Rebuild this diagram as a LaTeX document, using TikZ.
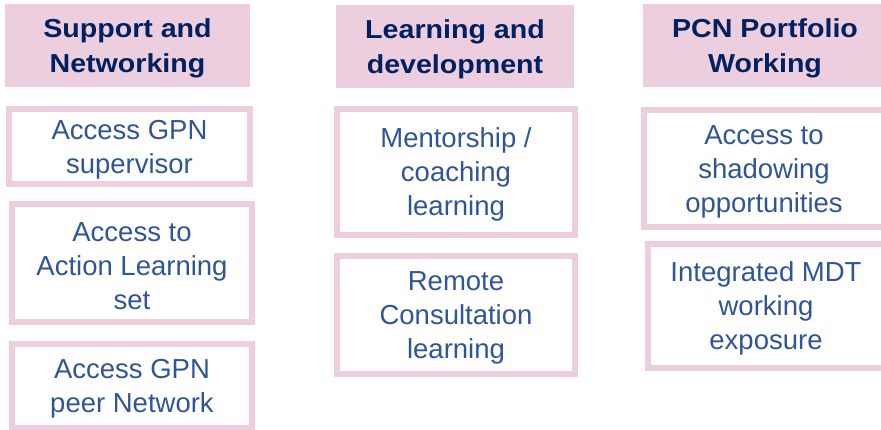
\documentclass[tikz,border=0pt]{standalone}
\usepackage{fontspec}
\setmainfont{Liberation Sans}
\newfontfamily\headfont[FakeStretch=1.1]{Liberation Sans}
\usepackage{tikz}
\usetikzlibrary{positioning}

\definecolor{pcnpink}{RGB}{237,206,222}
\definecolor{pcnnavy}{RGB}{0,32,96}
\definecolor{pcnblue}{RGB}{47,85,151}

\newcommand\headstrut{\rule{0pt}{24pt}}
\newcommand\itemstrut{\rule{0pt}{25pt}}

\begin{document}
\begin{tikzpicture}[node distance=100pt, inner sep=0pt, align=center]
  \tikzstyle{head}=[fill=pcnpink, text=pcnnavy, minimum height=83pt,
                    font=\headfont\bfseries\fontsize{26}{34.6}\selectfont]
  \tikzstyle{item}=[draw=pcnpink, line width=6pt, text=pcnblue,
                    font=\fontsize{27.5}{34}\selectfont]
  \path[use as bounding box] (0,0) rectangle (881pt,-429pt);
  \clip (0,0) rectangle (881pt,-429pt);
  % column headers
  \node[head, minimum width=245pt] (hs) at (127.5pt,-45.5pt) {\headstrut Support and\\Networking};
  \node[head, minimum width=238pt] (hl) [right of=hs, node distance=327.5pt, yshift=-1pt] {\headstrut Learning and\\development};
  \node[head, minimum width=244pt] (hp) [right of=hl, node distance=310pt, yshift=1pt] {\headstrut PCN Portfolio\\Working};
  % support and networking
  \node[item, minimum width=241pt, minimum height=75pt] (sup) [below of=hs, node distance=101pt, xshift=2pt] {\itemstrut Access GPN\\supervisor};
  \node[item, minimum width=240pt, minimum height=118pt] (als) [below of=sup, node distance=116.5pt, xshift=2.5pt] {\itemstrut Access to\\Action Learning\\set};
  \node[item, minimum width=240pt, minimum height=84pt] (peer) [below of=als, node distance=123pt] {\itemstrut Access GPN\\peer Network};
  % learning and development
  \node[item, minimum width=238pt, minimum height=126pt] (ment) [below of=hl, node distance=125.5pt, xshift=1pt] {\itemstrut Mentorship /\\coaching\\learning};
  \node[item, minimum width=238pt, minimum height=118pt] (rem) [below of=ment, node distance=143pt] {\itemstrut Remote\\Consultation\\learning};
  % pcn portfolio working
  \node[item, minimum width=240pt, minimum height=117pt] (shad) [below of=hp, node distance=123pt, xshift=-1pt] {\itemstrut Access to\\shadowing\\opportunities};
  \node[item, minimum width=236pt, minimum height=124pt] (mdt) [below of=shad, node distance=137.5pt, xshift=2pt] {\itemstrut Integrated MDT\\working\\exposure};
\end{tikzpicture}
\end{document}
